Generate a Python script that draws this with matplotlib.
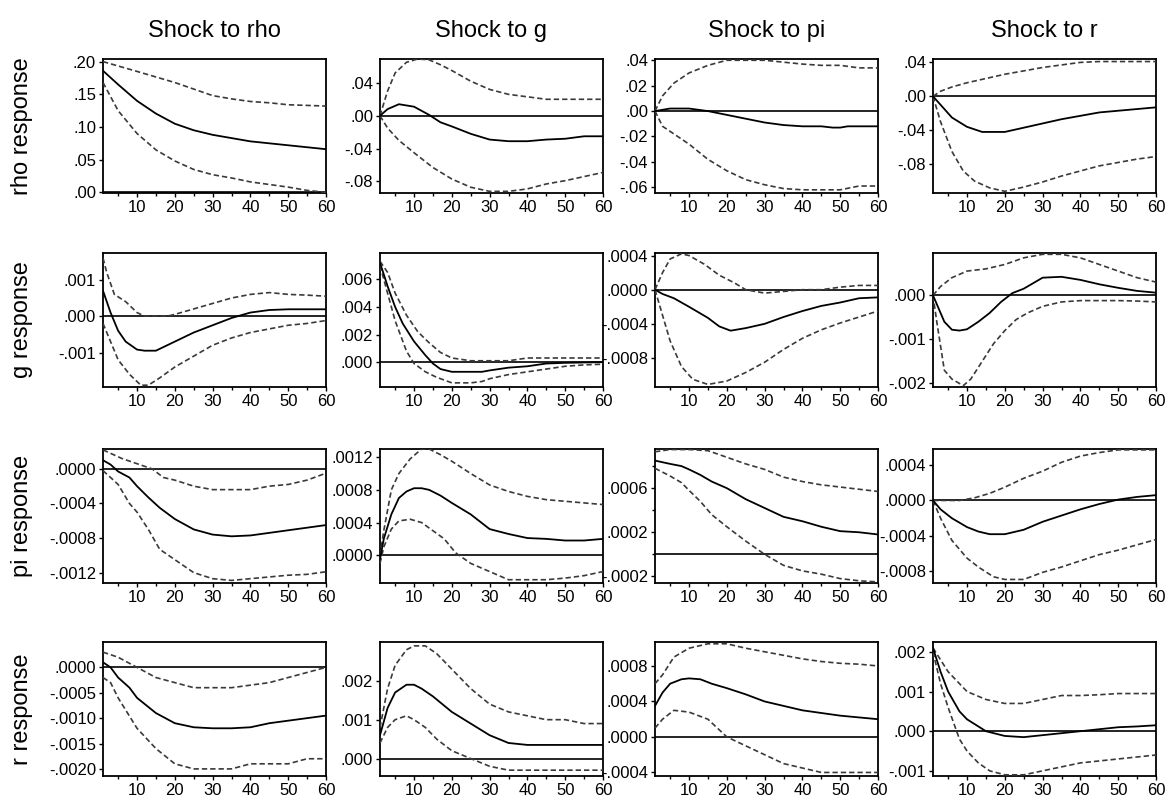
import matplotlib
matplotlib.use("Agg")
import matplotlib.pyplot as plt
from matplotlib.ticker import FixedLocator, FuncFormatter

plt.rcParams['font.family'] = ['Liberation Sans', 'DejaVu Sans']

shocks = ["rho", "g", "pi", "r"]
col_titles = ["Shock to rho", "Shock to g", "Shock to pi", "Shock to r"]
row_labels = ["rho response", "g response", "pi response", "r response"]
x_ticks = [10, 20, 30, 40, 50, 60]
x_minor = [5, 15, 25, 35, 45, 55]

# ---------------- row 1: rho response ----------------
rho_rho_mid = [(1,.186),(5,.165),(10,.14),(15,.1205),(20,.105),(25,.095),(30,.088),(35,.083),(40,.078),(45,.075),(50,.072),(55,.069),(60,.066)]
rho_rho_hi = [(1,.20),(10,.185),(20,.168),(25,.158),(30,.148),(35,.143),(40,.139),(45,.137),(50,.134),(55,.133),(60,.132)]
rho_rho_lo = [(1,.168),(5,.125),(10,.09),(15,.065),(20,.048),(25,.035),(30,.027),(35,.022),(40,.016),(45,.012),(50,.008),(55,.003),(60,.0)]

rho_g_mid = [(1,0),(3,.008),(6,.014),(10,.011),(14,.001),(17,-.008),(20,-.013),(25,-.022),(30,-.029),(35,-.031),(40,-.031),(45,-.029),(50,-.028),(55,-.025),(60,-.025)]
rho_g_hi = [(1,0),(3,.03),(5,.052),(8,.065),(11,.069),(14,.068),(17,.062),(20,.055),(25,.042),(30,.032),(35,.026),(40,.023),(45,.020),(50,.020),(60,.020)]
rho_g_lo = [(1,0),(3,-.015),(6,-.03),(10,-.045),(15,-.063),(20,-.077),(25,-.087),(30,-.092),(35,-.092),(40,-.089),(45,-.083),(50,-.079),(55,-.074),(60,-.069)]

rho_pi_mid = [(1,0),(5,.002),(10,.002),(15,0),(20,-.003),(25,-.006),(30,-.009),(35,-.011),(40,-.012),(45,-.012),(48,-.013),(50,-.013),(52,-.012),(60,-.012)]
rho_pi_hi = [(1,0),(3,.012),(6,.022),(10,.030),(15,.036),(20,.040),(30,.040),(40,.037),(45,.036),(50,.036),(55,.034),(60,.034)]
rho_pi_lo = [(1,0),(3,-.012),(6,-.018),(10,-.026),(15,-.038),(20,-.047),(25,-.054),(30,-.058),(35,-.061),(40,-.062),(50,-.062),(55,-.059),(60,-.059)]

rho_r_mid = [(1,0),(3,-.010),(6,-.025),(10,-.036),(14,-.042),(20,-.042),(25,-.037),(30,-.032),(35,-.027),(40,-.023),(45,-.019),(50,-.017),(55,-.015),(60,-.013)]
rho_r_hi = [(1,0),(3,.006),(6,.011),(10,.016),(15,.021),(20,.026),(25,.030),(30,.034),(35,.037),(40,.040),(45,.041),(60,.041)]
rho_r_lo = [(1,0),(3,-.030),(6,-.065),(9,-.088),(12,-.100),(16,-.108),(20,-.112),(25,-.107),(30,-.101),(35,-.094),(40,-.088),(45,-.082),(50,-.078),(55,-.074),(60,-.071)]

# ---------------- row 2: g response ----------------
g_rho_mid = [(1,.0007),(2,.0004),(3,.0001),(5,-.0004),(7,-.0007),(10,-.00092),(12,-.00095),(15,-.00095),(20,-.0007),(25,-.00045),(30,-.00025),(35,-.00005),(40,.0001),(45,.00017),(50,.00019),(60,.00019)]
g_rho_hi = [(1,.0016),(2,.0012),(4,.0006),(7,.0004),(10,.0001),(12,0),(18,0),(20,.00005),(25,.0002),(30,.00035),(35,.0005),(40,.0006),(45,.00065),(50,.0006),(55,.00058),(60,.00055)]
g_rho_lo = [(1,-.0002),(3,-.0007),(5,-.0012),(8,-.0016),(11,-.0019),(13,-.0019),(16,-.0017),(20,-.0014),(25,-.0011),(30,-.0008),(35,-.0006),(40,-.00045),(45,-.00035),(50,-.00025),(55,-.0002),(60,-.00012)]

g_g_mid = [(1,.0072),(3,.0055),(5,.004),(7,.0028),(10,.0015),(13,.0005),(15,-.0001),(17,-.0005),(20,-.0007),(25,-.0007),(28,-.0007),(30,-.0006),(35,-.0004),(40,-.0003),(45,-.0001),(50,-.00005),(60,0)]
g_g_hi = [(1,.0073),(3,.0065),(5,.005),(8,.0034),(11,.0022),(14,.0014),(17,.0007),(20,.0003),(25,.0001),(30,.0001),(35,.0001),(40,.0003),(60,.0003)]
g_g_lo = [(1,.007),(3,.005),(5,.003),(8,.0008),(10,-.0001),(13,-.0007),(16,-.0011),(20,-.0015),(25,-.0015),(28,-.0014),(30,-.0012),(35,-.0009),(40,-.0007),(45,-.0005),(50,-.0003),(55,-.0002),(60,-.00015)]

g_pi_mid = [(1,0),(3,-.00005),(6,-.0001),(10,-.0002),(15,-.00033),(18,-.00043),(21,-.00048),(25,-.00045),(30,-.0004),(35,-.00032),(40,-.00025),(45,-.00019),(50,-.00015),(55,-.0001),(60,-.00009)]
g_pi_hi = [(1,0),(3,.0002),(5,.00036),(8,.00042),(10,.0004),(14,.0003),(18,.00017),(22,.00008),(25,0),(30,-.00004),(35,-.00002),(40,0),(45,0),(50,.00003),(55,.00005),(60,.00005)]
g_pi_lo = [(1,0),(3,-.0003),(5,-.0006),(8,-.0009),(11,-.00105),(15,-.00111),(20,-.00107),(25,-.00097),(30,-.00085),(35,-.0007),(40,-.00057),(45,-.00047),(50,-.00039),(55,-.00032),(60,-.00025)]

g_r_mid = [(1,0),(2,-.0002),(4,-.0006),(6,-.00078),(8,-.0008),(10,-.00077),(13,-.0006),(16,-.0004),(19,-.00015),(22,.00005),(25,.00015),(30,.0004),(35,.00042),(40,.00035),(45,.00025),(50,.00017),(55,.0001),(60,.00006)]
g_r_hi = [(1,0),(3,.0002),(6,.0004),(10,.00055),(15,.0006),(20,.0007),(25,.00085),(30,.00093),(35,.00093),(40,.00085),(45,.0007),(50,.00055),(55,.0004),(60,.0003)]
g_r_lo = [(1,0),(2,-.0006),(4,-.0017),(6,-.0019),(9,-.00205),(11,-.0019),(14,-.0015),(17,-.0011),(20,-.0008),(23,-.00055),(26,-.0004),(30,-.00025),(35,-.00015),(40,-.00012),(50,-.00012),(55,-.00013),(60,-.00015)]

# ---------------- row 3: pi response ----------------
pi_rho_mid = [(1,.0001),(3,.00005),(5,-.00003),(8,-.0001),(10,-.0002),(13,-.00033),(16,-.00045),(20,-.00058),(25,-.0007),(30,-.00076),(35,-.00078),(40,-.00077),(45,-.00074),(50,-.00071),(55,-.00068),(60,-.00065)]
pi_rho_hi = [(1,.00022),(3,.00018),(6,.00012),(10,.00006),(14,0),(17,-.0001),(20,-.00013),(25,-.0002),(30,-.00024),(35,-.00024),(40,-.00024),(45,-.0002),(50,-.00018),(55,-.00013),(60,-.00005)]
pi_rho_lo = [(1,-.00002),(3,-.0001),(5,-.00018),(8,-.0004),(10,-.0005),(13,-.0007),(16,-.00093),(20,-.00105),(25,-.0012),(30,-.00127),(35,-.00129),(40,-.00127),(45,-.00125),(50,-.00123),(55,-.00122),(60,-.00119)]

pi_g_mid = [(1,-.00005),(2,.0002),(4,.0005),(6,.0007),(8,.00078),(10,.00082),(12,.00082),(14,.0008),(17,.00073),(20,.00064),(25,.0005),(30,.00032),(35,.00026),(40,.00021),(45,.0002),(50,.00018),(55,.00018),(60,.0002)]
pi_g_hi = [(1,0),(2,.0003),(4,.0008),(6,.001),(9,.00118),(12,.0013),(14,.0013),(17,.00123),(20,.00115),(25,.001),(30,.00086),(35,.00078),(40,.00072),(45,.00068),(50,.00066),(55,.00064),(60,.00062)]
pi_g_lo = [(1,-.0001),(2,.0001),(4,.00032),(6,.00042),(9,.00044),(12,.0004),(15,.0003),(18,.0002),(21,.00003),(25,-.0001),(30,-.0002),(35,-.0003),(40,-.0003),(45,-.0003),(50,-.00028),(55,-.00025),(60,-.0002)]

pi_pi_mid = [(1,.00085),(5,.00082),(8,.0008),(10,.00077),(13,.00072),(16,.00066),(20,.0006),(25,.0005),(30,.00042),(35,.00034),(40,.0003),(45,.00025),(50,.00021),(55,.0002),(60,.00018)]
pi_pi_hi = [(1,.00093),(5,.00095),(10,.00095),(15,.00094),(20,.00088),(25,.00082),(30,.00077),(35,.0007),(40,.00066),(45,.00063),(50,.00061),(55,.00059),(60,.00057)]
pi_pi_lo = [(1,.00078),(5,.00071),(8,.00065),(10,.00058),(13,.00048),(16,.00036),(20,.00025),(25,.00012),(30,0),(35,-.0001),(40,-.00015),(45,-.00018),(50,-.00022),(55,-.00024),(60,-.00025)]

pi_r_mid = [(1,0),(3,-.0001),(6,-.0002),(10,-.0003),(13,-.00035),(16,-.00038),(20,-.00038),(25,-.00033),(30,-.00024),(35,-.00017),(40,-.0001),(45,-.00004),(50,.00001),(55,.00004),(60,.00006)]
pi_r_hi = [(1,0),(5,0),(8,0),(12,.00003),(16,.00008),(20,.00015),(25,.00025),(30,.00033),(35,.00043),(40,.0005),(45,.00054),(50,.00057),(60,.00057)]
pi_r_lo = [(1,0),(3,-.0002),(6,-.00045),(10,-.00065),(13,-.00075),(17,-.00086),(20,-.00089),(25,-.00089),(30,-.00081),(35,-.00075),(40,-.00068),(45,-.00061),(50,-.00056),(55,-.0005),(60,-.00044)]

# ---------------- row 4: r response ----------------
r_rho_mid = [(1,.0001),(3,0),(5,-.0002),(8,-.0004),(10,-.0006),(15,-.0009),(20,-.0011),(25,-.00118),(30,-.0012),(35,-.0012),(40,-.00118),(45,-.0011),(50,-.00105),(55,-.001),(60,-.00095)]
r_rho_hi = [(1,.0003),(5,.0002),(10,0),(15,-.0002),(20,-.0003),(25,-.0004),(30,-.0004),(35,-.0004),(40,-.00035),(45,-.0003),(50,-.0002),(55,-.0001),(60,0)]
r_rho_lo = [(1,-.0002),(3,-.0003),(5,-.0006),(10,-.0012),(15,-.0016),(20,-.0019),(25,-.002),(30,-.002),(35,-.002),(40,-.0019),(45,-.0019),(50,-.0019),(55,-.0018),(60,-.0018)]

r_g_mid = [(1,.0006),(3,.0013),(5,.0017),(8,.0019),(10,.0019),(12,.0018),(15,.0016),(20,.0012),(25,.0009),(30,.0006),(35,.0004),(40,.00035),(45,.00035),(50,.00035),(60,.00035)]
r_g_hi = [(1,.0008),(3,.0018),(5,.0024),(8,.0028),(10,.0029),(13,.0029),(16,.0027),(20,.0023),(25,.0018),(30,.0014),(35,.0012),(40,.0011),(45,.001),(50,.001),(55,.0009),(60,.0009)]
r_g_lo = [(1,.0004),(3,.0008),(5,.001),(8,.0011),(10,.001),(13,.0008),(16,.0005),(20,.0002),(25,0),(30,-.0002),(35,-.0003),(40,-.0003),(45,-.0003),(50,-.0003),(55,-.0003),(60,-.0003)]

r_pi_mid = [(1,.00035),(3,.0005),(5,.0006),(8,.00065),(10,.00066),(13,.00065),(16,.0006),(20,.00055),(25,.00048),(30,.0004),(35,.00035),(40,.0003),(45,.00027),(50,.00024),(55,.00022),(60,.0002)]
r_pi_hi = [(1,.0006),(3,.0007),(6,.0009),(10,.001),(15,.00105),(20,.00105),(25,.001),(30,.00096),(35,.00092),(40,.00088),(45,.00085),(50,.00083),(55,.00082),(60,.0008)]
r_pi_lo = [(1,.0001),(3,.0002),(6,.0003),(10,.00028),(15,.0002),(20,0),(25,-.0001),(30,-.0002),(35,-.0003),(40,-.00035),(45,-.0004),(50,-.0004),(55,-.0004),(60,-.0004)]

r_r_mid = [(1,.0021),(3,.0015),(5,.001),(8,.0005),(10,.0003),(15,0),(20,-.00012),(25,-.00015),(30,-.0001),(35,-.00005),(40,0),(45,.00005),(50,.0001),(55,.00012),(60,.00015)]
r_r_hi = [(1,.0021),(3,.0018),(5,.0015),(8,.0012),(10,.001),(15,.0008),(20,.0007),(25,.0007),(30,.0008),(35,.0009),(40,.0009),(45,.00092),(50,.00095),(55,.00095),(60,.00095)]
r_r_lo = [(1,.002),(3,.0012),(5,.0006),(8,-.0002),(10,-.0005),(13,-.0008),(16,-.001),(20,-.0011),(25,-.0011),(30,-.001),(35,-.0009),(40,-.0008),(45,-.00075),(50,-.0007),(55,-.00065),(60,-.0006)]

# y-axis tick settings per panel: (labelled ticks, unlabelled ticks, decimals)
y_ticks = {
    ("rho", "rho"): ([0, .05, .10, .15, .20], [], 2),
    ("rho", "g"): ([-.08, -.04, 0, .04], [], 2),
    ("rho", "pi"): ([-.06, -.04, -.02, 0, .02, .04], [], 2),
    ("rho", "r"): ([-.08, -.04, 0, .04], [], 2),
    ("g", "rho"): ([-.001, 0, .001], [], 3),
    ("g", "g"): ([0, .002, .004, .006], [], 3),
    ("g", "pi"): ([-.0008, -.0004, 0, .0004], [], 4),
    ("g", "r"): ([-.002, -.001, 0], [], 3),
    ("pi", "rho"): ([-.0012, -.0008, -.0004, 0], [], 4),
    ("pi", "g"): ([0, .0004, .0008, .0012], [], 4),
    ("pi", "pi"): ([-.0002, .0002, .0006], [0, .0004, .0008], 4),
    ("pi", "r"): ([-.0008, -.0004, 0, .0004], [], 4),
    ("r", "rho"): ([-.002, -.0015, -.001, -.0005, 0], [], 4),
    ("r", "g"): ([0, .001, .002], [], 3),
    ("r", "pi"): ([-.0004, 0, .0004, .0008], [], 4),
    ("r", "r"): ([-.001, 0, .001, .002], [], 3),
}
y_limits = {
    ("rho", "rho"): (-.001, .204),
    ("rho", "g"): (-.094, .069),
    ("rho", "pi"): (-.0645, .041),
    ("rho", "r"): (-.114, .044),
    ("g", "rho"): (-.00195, .00174),
    ("g", "g"): (-.0018, .0079),
    ("g", "pi"): (-.00114, .00043),
    ("g", "r"): (-.00208, .00096),
    ("pi", "rho"): (-.00132, .00023),
    ("pi", "g"): (-.00034, .0013),
    ("pi", "pi"): (-.00026, .000955),
    ("pi", "r"): (-.00093, .00058),
    ("r", "rho"): (-.00214, .0005),
    ("r", "g"): (-.00045, .003),
    ("r", "pi"): (-.00044, .00107),
    ("r", "r"): (-.00113, .00225),
}

g = globals()

def fmt(dec):
    def f(v, pos):
        s = f"{abs(v):.{dec}f}"
        if s.startswith("0"):
            s = s[1:]
        return ("-" if v < -1e-12 else "") + s
    return FuncFormatter(f)

W, H = 1165, 807
fig = plt.figure(figsize=(W / 100, H / 100), dpi=100)
col_left = [103, 380, 655, 933]
row_top = [59, 253, 449, 642]
aw, ah = 223, 134

for i, resp in enumerate(shocks):
    for j, shock in enumerate(shocks):
        ax = fig.add_axes([col_left[j] / W, 1 - (row_top[i] + ah) / H, aw / W, ah / H])
        ax.axhline(0, color="black", lw=1.2, zorder=2)
        for kind in ("hi", "lo"):
            pts = g[f"{resp}_{shock}_{kind}"]
            ax.plot([p[0] for p in pts], [p[1] for p in pts], color="#3a3a3a",
                    lw=1.2, dashes=(3.2, 1.8), zorder=3)
        pts = g[f"{resp}_{shock}_mid"]
        ax.plot([p[0] for p in pts], [p[1] for p in pts], color="black", lw=1.3, zorder=4)
        ax.set_xlim(1, 60)
        ax.set_ylim(*y_limits[(resp, shock)])
        major, minor, dec = y_ticks[(resp, shock)]
        ax.yaxis.set_major_locator(FixedLocator(major))
        ax.yaxis.set_minor_locator(FixedLocator(minor))
        ax.yaxis.set_major_formatter(fmt(dec))
        ax.xaxis.set_major_locator(FixedLocator(x_ticks))
        ax.xaxis.set_minor_locator(FixedLocator(x_minor))
        ax.tick_params(axis="both", which="major", direction="out", length=3,
                       width=1, labelsize=12, pad=2)
        ax.tick_params(axis="both", which="minor", direction="out", length=2, width=1)
        for sp in ax.spines.values():
            sp.set_linewidth(1.3)
        if i == 0:
            ax.set_title(col_titles[j], fontsize=17, pad=16)
    fig.text(22 / W, 1 - (row_top[i] + ah / 2) / H, row_labels[i], rotation=90,
             fontsize=17, ha="center", va="center")

fig.savefig("out.png", dpi=100)
